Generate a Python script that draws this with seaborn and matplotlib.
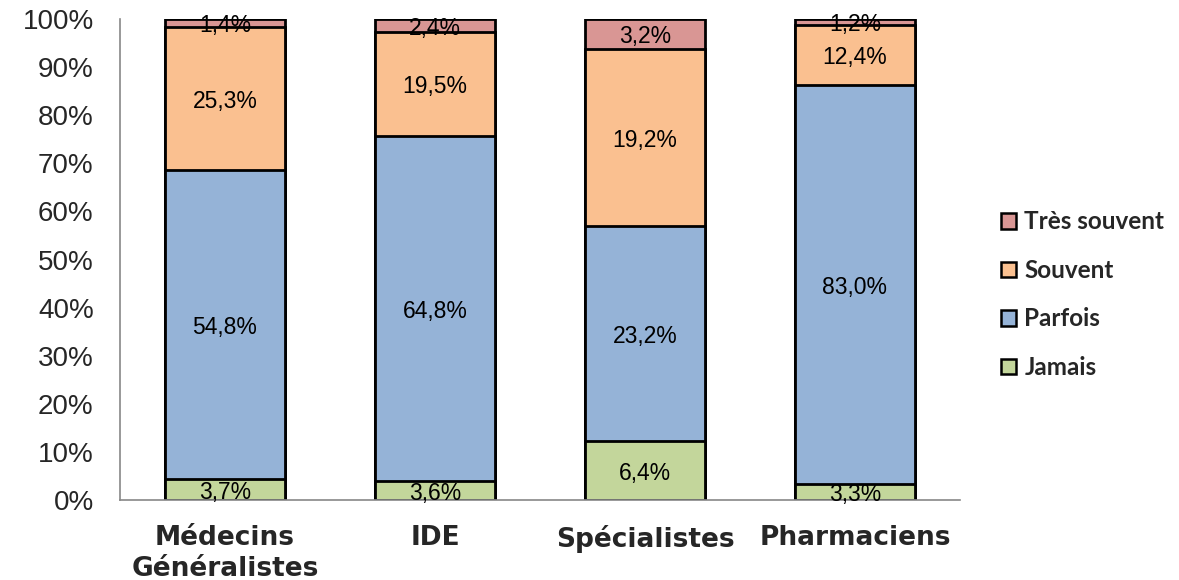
import numpy as np
import pandas as pd
import matplotlib
matplotlib.use("Agg")
import matplotlib.pyplot as plt
import seaborn as sns
from matplotlib.patches import Patch

categories = ["Médecins\nGénéralistes", "IDE", "Spécialistes", "Pharmaciens"]
series_names = ["Jamais", "Parfois", "Souvent", "Très souvent"]
jamais = [3.7, 3.6, 6.4, 3.3]
parfois = [54.8, 64.8, 23.2, 83.0]
souvent = [25.3, 19.5, 19.2, 12.4]
tres_souvent = [1.4, 2.4, 3.2, 1.2]
colors = ["#C3D69B", "#95B3D7", "#FAC090", "#D99694"]
y_ticks = [0, 10, 20, 30, 40, 50, 60, 70, 80, 90, 100]
y_tick_labels = [f"{v}%" for v in y_ticks]

sns.set_theme(style="white")
plt.rcParams['font.family'] = ['Liberation Sans', 'DejaVu Sans']

raw = np.array([jamais, parfois, souvent, tres_souvent])
norm = raw / raw.sum(axis=0) * 100
cum = np.cumsum(norm, axis=0)

fig = plt.figure(figsize=(11.79, 5.8), dpi=100)
ax = fig.add_axes([0.1018, 0.138, 0.7124, 0.829])

# draw from top layer to bottom layer (cumulative heights)
for i in range(len(series_names) - 1, -1, -1):
    df = pd.DataFrame({"cat": categories, "val": cum[i]})
    sns.barplot(data=df, x="cat", y="val", color=colors[i], saturation=1,
                width=0.57, edgecolor="black", linewidth=2.0, ax=ax, zorder=2)

for j in range(len(categories)):
    for i in range(len(series_names)):
        bottom = cum[i][j] - norm[i][j]
        mid = bottom + norm[i][j] / 2
        label = f"{raw[i][j]:.1f}%".replace(".", ",")
        ax.text(j, mid - 0.6, label, ha="center", va="center", fontsize=16.5,
                color="black", zorder=5)

ax.set_ylim(0, 100)
ax.set_xlim(-0.5, 3.5)
ax.set_yticks(y_ticks)
ax.set_yticklabels(y_tick_labels, fontsize=20)
ax.set_xlabel("")
ax.set_ylabel("")
ax.set_xticks(range(len(categories)))
ax.set_xticklabels(categories, fontfamily="DejaVu Sans", fontweight="bold",
                   fontsize=19, va="top", linespacing=1.25)
ax.tick_params(axis="x", length=0, pad=18)
ax.tick_params(axis="y", length=0, pad=19)

for s in ["top", "right"]:
    ax.spines[s].set_visible(False)
for s in ["left", "bottom"]:
    ax.spines[s].set_color("#888888")
    ax.spines[s].set_linewidth(1.2)

handles = [Patch(facecolor=colors[i], edgecolor="black", linewidth=1.8,
                 label=series_names[i]) for i in range(len(series_names) - 1, -1, -1)]
leg = fig.legend(handles=handles, loc="center left", bbox_to_anchor=(0.841, 0.492),
                 frameon=False, prop={"family": "Lato", "weight": "bold", "size": 17.5},
                 handlelength=0.6, handleheight=0.6, handletextpad=0.35,
                 labelspacing=1.05, borderaxespad=0)

fig.savefig("out.png", dpi=100)
